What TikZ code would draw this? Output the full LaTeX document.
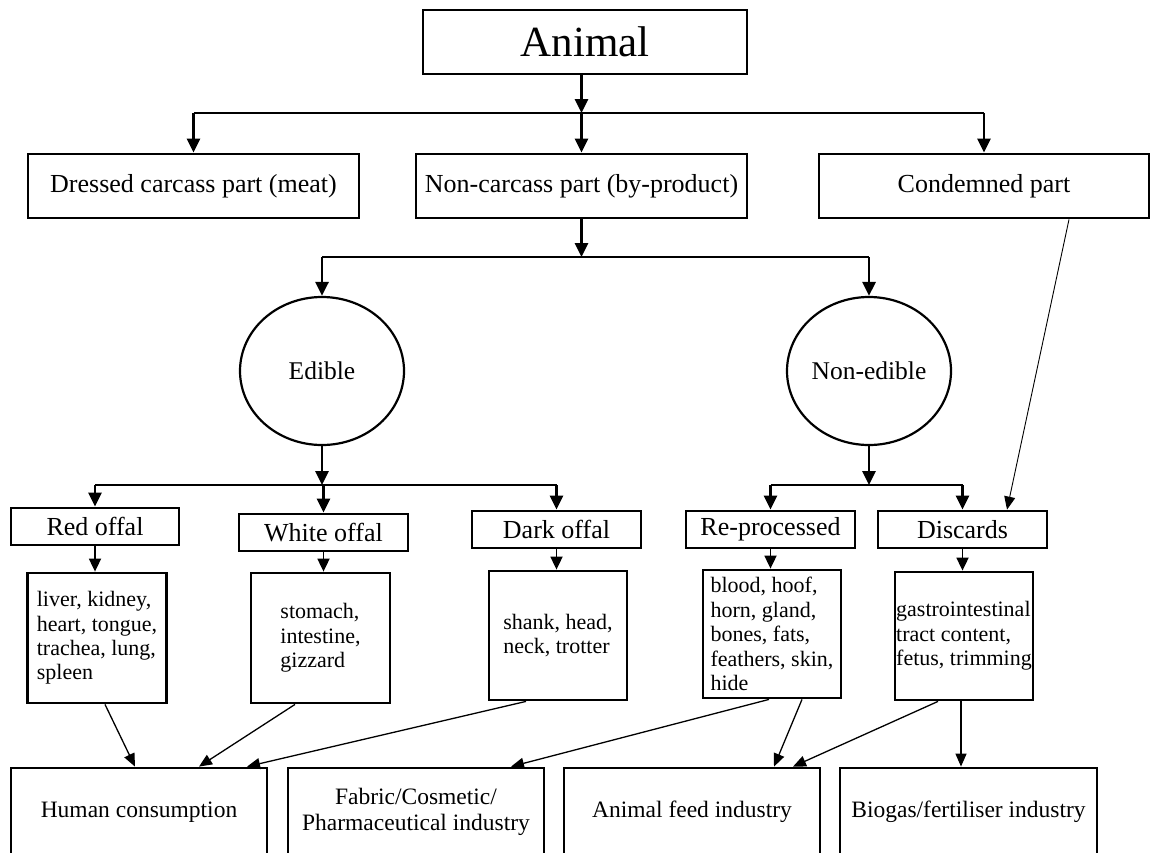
\documentclass[tikz,border=0pt]{standalone}
\usepackage{fontspec}
\setmainfont{Liberation Serif}
\usetikzlibrary{arrows.meta,shapes.geometric}

\tikzset{
  box/.style={draw, line width=2.8pt, rectangle, inner sep=0pt, align=center},
  oval/.style={draw, line width=2.2pt, ellipse, inner sep=0pt},
  detail/.style={box, align=left, font=\fontsize{22}{24.4}\selectfont},
  lvltwo/.style={font=\fontsize{26}{28}\selectfont},
  lvlout/.style={font=\fontsize{23.5}{26}\selectfont},
  link/.style={line width=2.8pt},
  arr/.style={line width=2.8pt, -{Triangle[length=14pt,width=13pt]}},
  smallarr/.style={line width=1.8pt, -{Triangle[length=13pt,width=12pt]}},
  thinarr/.style={line width=1.3pt, -{Triangle[length=13pt,width=11pt]}},
  hairarr/.style={line width=0.9pt, -{Triangle[length=13pt,width=11pt]}}
}

\begin{document}
\begin{tikzpicture}[x=1pt,y=-1pt]
\useasboundingbox (0,0) rectangle (1150,852);
\clip (0,0) rectangle (1150,852);

% top level
\node[box, minimum width=324, minimum height=64, font=\fontsize{43}{46}\selectfont] (animal) at (585,42) {Animal};

% carcass split
\node[box, lvltwo, minimum width=331, minimum height=64] (dressed) at (193.5,186) {Dressed carcass part (meat)};
\node[box, lvltwo, minimum width=331, minimum height=64] (noncarc) at (581.5,186) {Non-carcass part (by-product)};
\node[box, lvltwo, minimum width=330, minimum height=64] (cond) at (984,186) {Condemned part};

% edible / non-edible
\node[oval, minimum width=164, minimum height=148, font=\fontsize{25.5}{27}\selectfont] (edible) at (322,371) {Edible};
\node[oval, minimum width=164, minimum height=148, font=\fontsize{25.5}{27}\selectfont] (nonedible) at (869,371) {Non-edible};

% categories
\node[box, lvltwo, minimum width=168, minimum height=37] (red) at (95,526.5) {Red offal};
\node[box, lvltwo, minimum width=169, minimum height=37] (white) at (323.5,532.5) {White offal};
\node[box, lvltwo, minimum width=169, minimum height=37] (dark) at (556.5,529.5) {Dark offal};
\node[box, lvltwo, minimum width=169, minimum height=37] (reproc) at (770.5,529.5) {Re-processed};
\node[box, lvltwo, minimum width=169, minimum height=37] (discards) at (962.5,529.5) {Discards};

% item lists
\node[detail, minimum width=139.5, minimum height=130] (reddet) at (97,638)
  {liver, kidney,\\heart, tongue,\\trachea, lung,\\spleen};
\node[detail, minimum width=139, minimum height=130] (whitedet) at (320.5,638)
  {stomach,\\intestine,\\gizzard};
\node[detail, minimum width=138, minimum height=129] (darkdet) at (558,635.5)
  {shank, head,\\neck, trotter};
\node[detail, minimum width=138, minimum height=128] (repdet) at (772,634)
  {blood, hoof,\\horn, gland,\\bones, fats,\\feathers, skin,\\hide};
\node[detail, minimum width=138, minimum height=128] (discdet) at (964,636)
  {gastrointestinal\\tract content,\\fetus, trimming};

% end uses
\node[box, lvlout, minimum width=256, minimum height=88] (human) at (139,812) {Human consumption};
\node[box, lvlout, minimum width=256, minimum height=88] (fabric) at (416,812) {Fabric/Cosmetic/\\Pharmaceutical industry};
\node[box, lvlout, minimum width=256, minimum height=88] (feed) at (692,812) {Animal feed industry};
\node[box, lvlout, minimum width=257, minimum height=88] (biogas) at (968.5,812) {Biogas/fertiliser industry};

% junction points of the branching connectors
\coordinate (j1) at (581.5,113);
\coordinate (j2) at (581.5,257);
\coordinate (j3) at (322,485);
\coordinate (j4) at (869,485);

% Animal -> three parts
\draw[arr] (animal.south -| j1) -- (j1);
\draw[link] (dressed.north |- j1) -- (cond.north |- j1);
\draw[arr] (dressed.north |- j1) -- (dressed.north);
\draw[arr] (j1) -- (noncarc.north);
\draw[arr] (cond.north |- j1) -- (cond.north);

% Non-carcass -> edible / non-edible
\draw[arr] (noncarc.south) -- (j2);
\draw[link] (edible.north |- j2) -- (nonedible.north |- j2);
\draw[arr] (edible.north |- j2) -- (edible.north);
\draw[arr] (nonedible.north |- j2) -- (nonedible.north);

% Edible -> offal types
\draw[arr] (edible.south) -- (j3);
\draw[link] (red.north |- j3) -- (dark.north |- j3);
\draw[arr] (red.north |- j3) -- (red.north);
\draw[arr] (white.north |- j3) -- (white.north);
\draw[arr] (dark.north |- j3) -- (dark.north);

% Non-edible -> re-processed / discards
\draw[arr] (nonedible.south) -- (j4);
\draw[link] (reproc.north |- j4) -- (discards.north |- j4);
\draw[arr] (reproc.north |- j4) -- (reproc.north);
\draw[arr] (discards.north |- j4) -- (discards.north);

% Condemned -> discards
\draw[hairarr] ([xshift=85pt]cond.south) -- ([xshift=44.5pt]discards.north);

% categories -> item lists
\draw[smallarr] (red.south) -- (red.south |- reddet.north);
\draw[smallarr] (white.south) -- (white.south |- whitedet.north);
\draw[smallarr] (dark.south) -- (dark.south |- darkdet.north);
\draw[smallarr] (reproc.south) -- (reproc.south |- repdet.north);
\draw[smallarr] (discards.south) -- (discards.south |- discdet.north);

% item lists -> end uses
\draw[thinarr] ([xshift=8pt]reddet.south) -- ([xshift=-4pt]human.north);
\draw[thinarr] ([xshift=-25.5pt]whitedet.south) -- ([xshift=60pt]human.north);
\draw[thinarr] ([xshift=-32pt]darkdet.south) -- ([xshift=108pt]human.north);
\draw[thinarr] ([xshift=-3pt]repdet.south) -- ([xshift=95pt]fabric.north);
\draw[thinarr] ([xshift=30pt]repdet.south) -- ([xshift=82pt]feed.north);
\draw[thinarr] ([xshift=-26pt]discdet.south) -- ([xshift=101pt]feed.north);
\draw[thinarr] ([xshift=-3pt]discdet.south) -- ([xshift=-7.5pt]biogas.north);
\end{tikzpicture}
\end{document}
